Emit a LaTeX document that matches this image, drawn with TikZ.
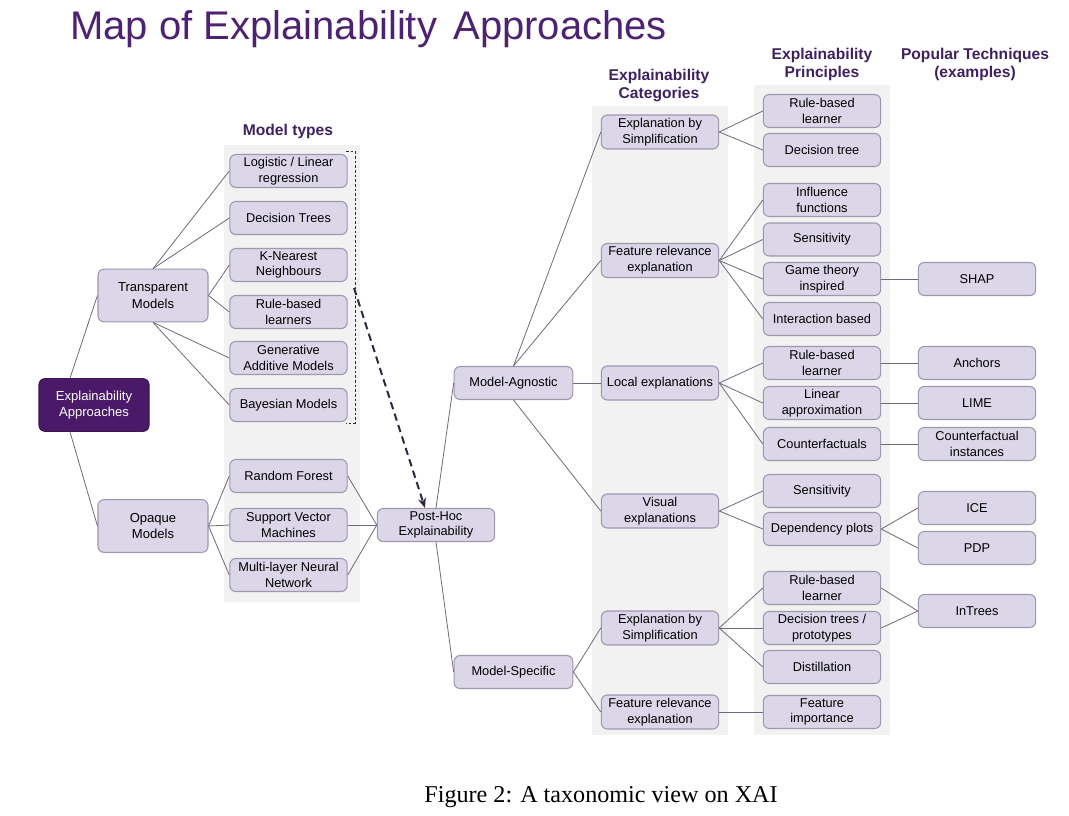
\documentclass[tikz,border=0pt]{standalone}
\usepackage{fontspec}
\setmainfont{Liberation Sans}
\newfontfamily\capfont{Liberation Serif}
\usetikzlibrary{calc,arrows.meta}
\definecolor{boxfill}{HTML}{DCD6E9}
\definecolor{boxline}{HTML}{9E97AE}
\definecolor{colbg}{HTML}{F2F2F2}
\definecolor{linecol}{HTML}{6F6A7A}
\definecolor{darkpurple}{HTML}{4A1A69}
\definecolor{titlecol}{HTML}{4E2272}
\definecolor{headcol}{HTML}{3F2160}
\definecolor{arrowcol}{HTML}{33263F}
\begin{document}
\begin{tikzpicture}[x=0.75pt,y=-0.75pt,
  box/.style={draw=boxline, fill=boxfill, rounded corners=4.5pt, line width=0.8pt,
    align=center, font=\fontsize{9.6}{11.8}\selectfont, inner sep=0pt,
    minimum width=88pt, minimum height=24.75pt},
  bigbox/.style={box, minimum width=82.5pt, minimum height=39.5pt, font=\fontsize{9.8}{12.2}\selectfont},
  darkbox/.style={bigbox, fill=darkpurple, draw=darkpurple!80!black, text=white},
  head/.style={align=center, text=headcol, font=\bfseries\fontsize{11.7}{13.5}\selectfont, inner sep=0pt},
  conn/.style={draw=linecol, line width=0.6pt},
]
\useasboundingbox (0,0) rectangle (1069,815);
\fill[white] (0,0) rectangle (1069,815);

% column backgrounds
\fill[colbg] (224,145) rectangle (360,602);
\fill[colbg] (592,106) rectangle (728,735);
\fill[colbg] (754,85) rectangle (890,735);

% title and headers
\node[anchor=base west, inner sep=0pt, text=titlecol, font=\fontsize{30}{36}\selectfont] (title) at (70,39) {Map of Explainability\hspace{4pt} Approaches};
\node[head] (hmt) at (288,131) {Model types};
\node[head] (hcat) at (659,85) {Explainability\\Categories};
\node[head] (hpr) at (822,64.5) {Explainability\\Principles};
\node[head] (hpt) at (975,64.5) {Popular Techniques\\(examples)};

% level 0-1
\node[darkbox] (ea) at (94,405) {Explainability\\Approaches};
\node[bigbox] (tm) at (153,295.5) {Transparent\\Models};
\node[bigbox] (om) at (153,526) {Opaque\\Models};

% model types
\node[box] (lr)  at (288.5,171) {Logistic / Linear\\regression};
\node[box] (dtr) at (288.5,218) {Decision Trees};
\node[box] (knn) at (288.5,265) {K-Nearest\\Neighbours};
\node[box] (rbl) at (288.5,312) {Rule-based\\learners};
\node[box] (gam) at (288.5,358) {Generative\\Additive Models};
\node[box] (bay) at (288.5,405) {Bayesian Models};
\node[box] (rf)  at (288.5,476) {Random Forest};
\node[box] (svm) at (288.5,525) {Support Vector\\Machines};
\node[box] (mlp) at (288.5,575) {Multi-layer Neural\\Network};

% post-hoc
\node[box] (ph) at (436,525) {Post-Hoc\\Explainability};
\node[box, minimum width=89pt] (ma) at (513.5,383) {Model-Agnostic};
\node[box, minimum width=89pt] (ms) at (513.5,672) {Model-Specific};

% categories
\node[box, minimum height=25.5pt] (c1) at (660,132) {Explanation by\\Simplification};
\node[box, minimum height=25.5pt] (c2) at (660,260.5) {Feature relevance\\explanation};
\node[box, minimum height=25.5pt] (c3) at (660,383) {Local explanations};
\node[box, minimum height=25.5pt] (c4) at (660,511) {Visual\\explanations};
\node[box, minimum height=25.5pt] (c5) at (660,628) {Explanation by\\Simplification};
\node[box, minimum height=25.5pt] (c6) at (660,712) {Feature relevance\\explanation};

% principles
\node[box] (p1)  at (822,111) {Rule-based\\learner};
\node[box] (p2)  at (822,150) {Decision tree};
\node[box] (p3)  at (822,200) {Influence\\functions};
\node[box] (p4)  at (822,239.5) {Sensitivity};
\node[box] (p5)  at (822,279) {Game theory\\inspired};
\node[box] (p6)  at (822,319) {Interaction based};
\node[box] (p7)  at (822,363) {Rule-based\\learner};
\node[box] (p8)  at (822,403) {Linear\\approximation};
\node[box] (p9)  at (822,444) {Counterfactuals};
\node[box] (p10) at (822,491) {Sensitivity};
\node[box] (p11) at (822,529) {Dependency plots};
\node[box] (p12) at (822,588) {Rule-based\\learner};
\node[box] (p13) at (822,628) {Decision trees /\\prototypes};
\node[box] (p14) at (822,667) {Distillation};
\node[box] (p15) at (822,712) {Feature\\importance};

% techniques
\node[box] (t1) at (977,279) {SHAP};
\node[box] (t2) at (977,363) {Anchors};
\node[box] (t3) at (977,403) {LIME};
\node[box] (t4) at (977,444) {Counterfactual\\instances};
\node[box] (t5) at (977,508) {ICE};
\node[box] (t6) at (977,548) {PDP};
\node[box] (t7) at (977,611) {InTrees};

% connectors
\draw[conn] ($(ea.north)+(-24,0)$) -- (tm.west);
\draw[conn] ($(ea.south)+(-24,0)$) -- (om.west);
\draw[conn] (tm.north) -- (lr.west);
\draw[conn] (tm.north) -- (dtr.west);
\draw[conn] (tm.east) -- (knn.west);
\draw[conn] (tm.east) -- (rbl.west);
\draw[conn] (tm.south) -- (gam.west);
\draw[conn] (tm.south) -- (bay.west);
\draw[conn] (om.east) -- (rf.west);
\draw[conn] (om.east) -- (svm.west);
\draw[conn] (om.east) -- (mlp.west);
\draw[conn] (rf.east) -- (ph.west);
\draw[conn] (svm.east) -- (ph.west);
\draw[conn] (mlp.east) -- (ph.west);
\draw[conn] (ph.north) -- (ma.west);
\draw[conn] (ph.south) -- (ms.west);
\draw[conn] (ma.north) -- (c1.west);
\draw[conn] (ma.north) -- (c2.west);
\draw[conn] (ma.east) -- (c3.west);
\draw[conn] (ma.south) -- (c4.west);
\draw[conn] (ms.east) -- (c5.west);
\draw[conn] (ms.east) -- (c6.west);
\draw[conn] (c1.east) -- (p1.west);
\draw[conn] (c1.east) -- (p2.west);
\draw[conn] (c2.east) -- (p3.west);
\draw[conn] (c2.east) -- (p4.west);
\draw[conn] (c2.east) -- (p5.west);
\draw[conn] (c2.east) -- (p6.west);
\draw[conn] (c3.east) -- (p7.west);
\draw[conn] (c3.east) -- (p8.west);
\draw[conn] (c3.east) -- (p9.west);
\draw[conn] (c4.east) -- (p10.west);
\draw[conn] (c4.east) -- (p11.west);
\draw[conn] (c5.east) -- (p12.west);
\draw[conn] (c5.east) -- (p13.west);
\draw[conn] (c5.east) -- (p14.west);
\draw[conn] (c6.east) -- (p15.west);
\draw[conn] (p5.east) -- (t1.west);
\draw[conn] (p7.east) -- (t2.west);
\draw[conn] (p8.east) -- (t3.west);
\draw[conn] (p9.east) -- (t4.west);
\draw[conn] (p11.east) -- (t5.west);
\draw[conn] (p11.east) -- (t6.west);
\draw[conn] (p12.east) -- (t7.west);
\draw[conn] (p13.east) -- (t7.west);

% bracket and dashed arrow
\coordinate (bt) at (346,151);
\coordinate (bb) at (346,423);
\draw[draw=arrowcol, line width=0.7pt, dash pattern=on 2pt off 1.5pt] (bt) -- ++(9,0) |- (bb);
\coordinate (brk) at (354,288);
\draw[draw=arrowcol, line width=1.5pt, dash pattern=on 5.5pt off 3.5pt, -{Stealth[length=7.5pt,width=6pt,fill=darkpurple]}] (brk) -- ($(ph.north)+(-11,0)$);

% caption
\node[font=\capfont\fontsize{18.1}{22}\selectfont, inner sep=0pt] (cap) at (601,797) {Figure 2: A taxonomic view on XAI};
\end{tikzpicture}
\end{document}
